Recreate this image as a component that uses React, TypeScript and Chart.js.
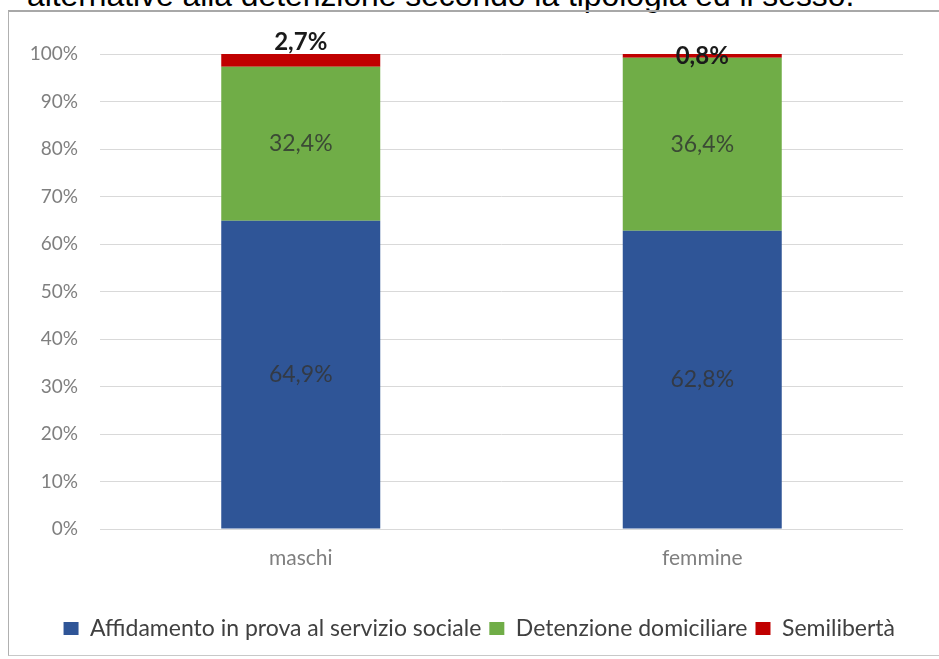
import React, { useEffect, useRef } from "react";
import { Chart, registerables } from "chart.js";

Chart.register(...registerables);

const pageTitle = "alternative alla detenzione secondo la tipologia ed il sesso.";
const categories = ["maschi", "femmine"];
const seriesNames = [
  "Affidamento in prova al servizio sociale",
  "Detenzione domiciliare",
  "Semilibertà",
];
const affidamento = [64.9, 62.8];
const detenzione = [32.4, 36.4];
const semiliberta = [2.7, 0.8];
const seriesColors = ["#2F5597", "#70AD47", "#C00000"];
const yMin = 0;
const yMax = 100;
const yStep = 10;

const fmt = (v: number) => v.toFixed(1).replace(".", ",") + "%";

const labelPlugin = {
  id: "segLabels",
  afterDatasetsDraw(chart: any) {
    const ctx = chart.ctx;
    ctx.save();
    ctx.textAlign = "center";
    ctx.textBaseline = "middle";
    chart.data.datasets.forEach((ds: any, di: number) => {
      const meta = chart.getDatasetMeta(di);
      meta.data.forEach((bar: any, i: number) => {
        const v = ds.data[i];
        const top = Math.min(bar.y, bar.base);
        const bottom = Math.max(bar.y, bar.base);
        const h = bottom - top;
        let y = (top + bottom) / 2;
        if (di === 2) {
          ctx.font = "bold 24px Lato";
          ctx.fillStyle = "#1a1a1a";
          if (h > 8) y = top - 12;
        } else {
          ctx.font = "23px Lato";
          ctx.fillStyle = di === 0 ? "#333a45" : "#3b4a35";
        }
        ctx.fillText(fmt(v), bar.x, y);
      });
    });
    ctx.restore();
  },
};

export default function App() {
  const ref = useRef<HTMLCanvasElement>(null);
  useEffect(() => {
    document.body.style.margin = "0";
    const chart = new Chart(ref.current!, {
      type: "bar",
      data: {
        labels: categories,
        datasets: [
          { label: seriesNames[0], data: affidamento, backgroundColor: seriesColors[0] },
          { label: seriesNames[1], data: detenzione, backgroundColor: seriesColors[1] },
          { label: seriesNames[2], data: semiliberta, backgroundColor: seriesColors[2] },
        ],
      },
      options: {
        animation: false,
        responsive: false,
        maintainAspectRatio: false,
        datasets: { bar: { categoryPercentage: 1, barPercentage: 0.396 } },
        layout: { padding: { left: 0, top: 54, right: 36, bottom: 9 } },
        plugins: {
          tooltip: { enabled: false },
          title: { display: false },
          legend: {
            position: "bottom",
            align: "end",
            labels: {
              boxWidth: 15,
              boxHeight: 13,
              padding: 8,
              color: "#404040",
              font: { family: "Lato", size: 23 },
            },
          },
        },
        scales: {
          x: {
            stacked: true,
            grid: { display: false },
            border: { display: false },
            ticks: { color: "#7f7f7f", font: { family: "Lato", size: 21 }, padding: 9 },
            afterFit: (s: any) => {
              s.height = 80;
            },
          },
          y: {
            stacked: true,
            min: yMin,
            max: yMax,
            grid: { color: "#d9d9d9", drawTicks: false },
            border: { display: false },
            ticks: {
              stepSize: yStep,
              color: "#7f7f7f",
              font: { family: "Lato", size: 19 },
              padding: 22,
              callback: (v: any) => v + "%",
            },
            afterFit: (s: any) => {
              s.width = 100;
            },
          },
        },
      },
      plugins: [labelPlugin],
    });
    return () => chart.destroy();
  }, []);

  return (
    <div
      style={{
        position: "fixed",
        left: 0,
        top: 0,
        width: 939,
        height: 659,
        overflow: "hidden",
        background: "#fff",
      }}
    >
      <div
        style={{
          position: "absolute",
          left: 27,
          top: -20,
          fontFamily: "'Liberation Sans', Arial, sans-serif",
          fontSize: 31.8,
          lineHeight: "31.8px",
          color: "#000",
          whiteSpace: "nowrap",
        }}
      >
        {pageTitle}
      </div>
      <div
        style={{
          position: "absolute",
          left: 8,
          top: 10,
          width: 960,
          height: 646,
          borderTop: "2px solid #a8a8a8",
          borderLeft: "1px solid #b0b0b0",
          borderBottom: "1px solid #c8c8c8",
          boxSizing: "border-box",
        }}
      />
      <canvas
        ref={ref}
        width={939}
        height={659}
        style={{ position: "absolute", left: 0, top: 0, width: 939, height: 659 }}
      />
    </div>
  );
}
